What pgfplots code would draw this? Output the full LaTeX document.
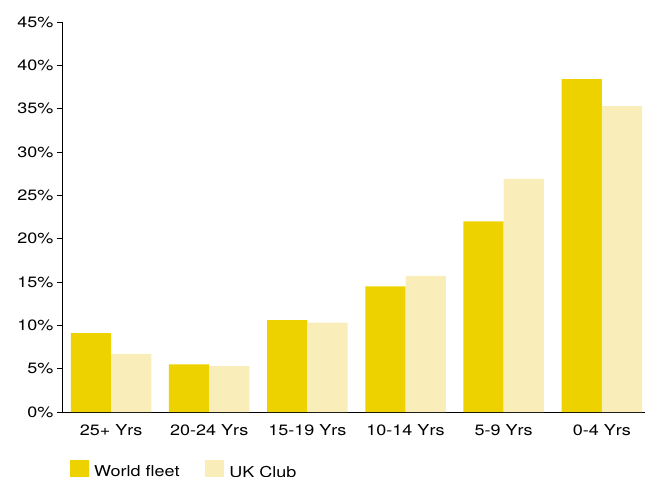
\documentclass[border=0pt]{standalone}
\usepackage{fontspec}
\setmainfont{TeX Gyre Heros}[FakeStretch=1.2]
\usepackage{pgfplots}
\pgfplotsset{compat=1.18}
\definecolor{wf}{RGB}{238,210,0}
\definecolor{uk}{RGB}{249,237,185}
\begin{document}
\begin{tikzpicture}
\begin{axis}[
  scale only axis,
  width=583bp, height=390bp,
  ybar=0pt, bar width=0.41,
  xmin=-0.5, xmax=5.44,
  ymin=0, ymax=45,
  axis x line=bottom, axis y line=left,
  axis line style={-, black, line width=0.8pt},
  xtick={0,...,5},
  xticklabels={25+ Yrs,20-24 Yrs,15-19 Yrs,10-14 Yrs,5-9 Yrs,0-4 Yrs},
  x tick style={draw=none},
  minor xtick={-0.5,0.5,1.5,2.5,3.5,4.5},
  minor x tick style={black, line width=0.8pt},
  minor tick length=5bp,
  ytick={0,5,...,45},
  yticklabel={\pgfmathprintnumber{\tick}\%},
  y tick style={black, line width=0.8pt},
  major tick length=5bp,
  tick align=outside,
  /pgf/number format/assume math mode=true,
  tick label style={font=\fontsize{15bp}{17bp}\selectfont},
  xticklabel style={yshift=-4bp},
  legend style={draw=none, at={(0,-0.118)}, anchor=north west, xshift=8bp,
    font=\fontsize{15bp}{17bp}\selectfont, legend columns=2,
    /tikz/every odd column/.append style={column sep=3bp},
    /tikz/every even column/.append style={column sep=24bp, nodes={yshift=-2.5bp}},
    inner xsep=0bp},
  legend image code/.code={\fill[#1] (0bp,-9.5bp) rectangle (19bp,9.5bp);},
]
\addplot[fill=wf, draw=none] coordinates {(0,9.1) (1,5.5) (2,10.6) (3,14.5) (4,22.0) (5,38.4)};
\addplot[fill=uk, draw=none] coordinates {(0,6.7) (1,5.3) (2,10.3) (3,15.7) (4,26.9) (5,35.3)};
\legend{World fleet, UK Club}
\end{axis}
\pgfresetboundingbox
\path (-62bp,-65bp) rectangle (583bp,412bp);
\end{tikzpicture}
\end{document}
